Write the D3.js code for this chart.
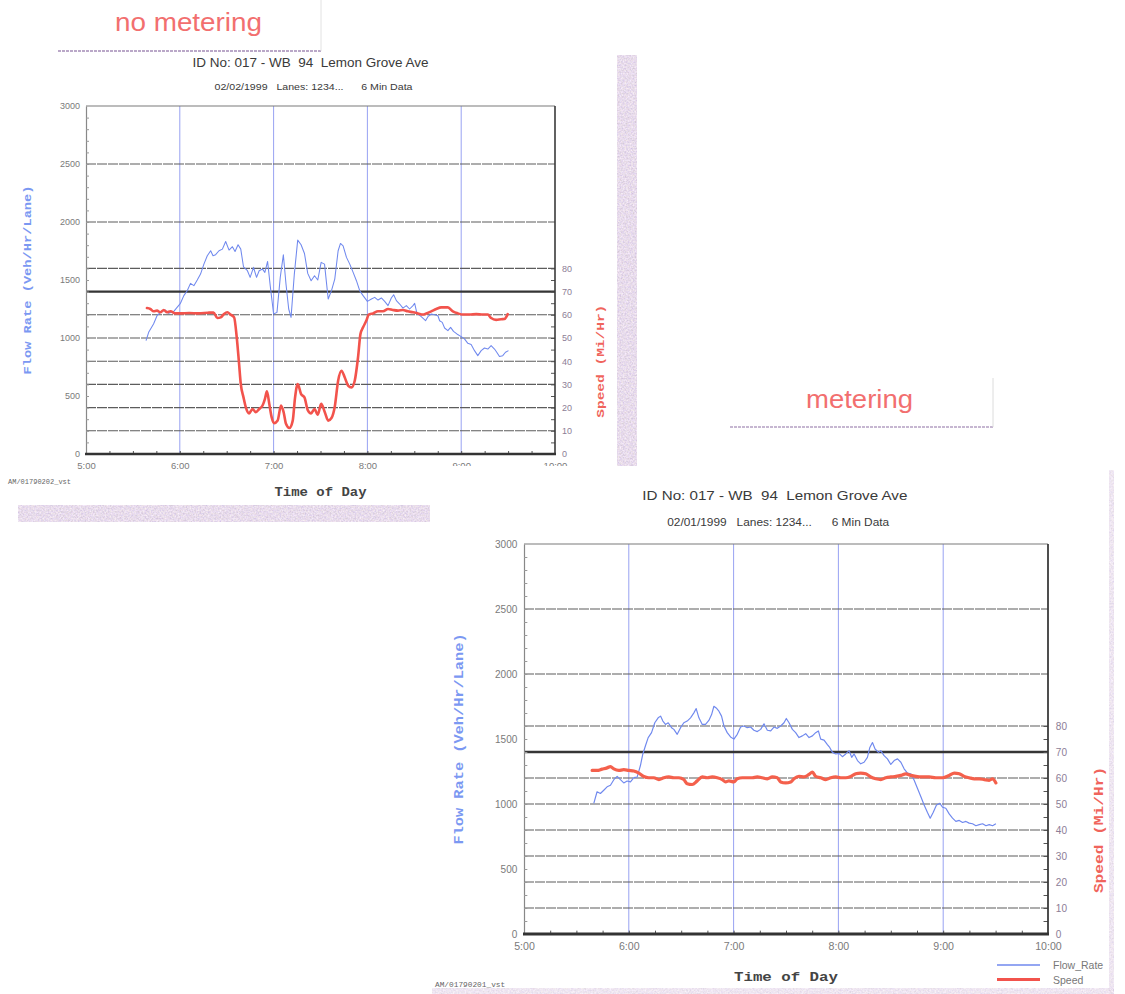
<!DOCTYPE html>
<html><head><meta charset="utf-8">
<script src="https://cdn.jsdelivr.net/npm/d3@7"></script>
<style>
html,body{margin:0;padding:0;background:#fff;}
svg{display:block;}
text{white-space:pre;}
</style></head><body>
<svg id="c" width="1125" height="994"></svg>
<script>
// ---------- data (time in decimal hours) ----------
const noMeterFlowTime = [5.64,5.668,5.72,5.757,5.793,5.846,5.882,5.936,5.971,6.007,6.043,6.079,6.114,6.15,6.186,6.221,6.257,6.293,6.329,6.354,6.382,6.418,6.454,6.489,6.525,6.561,6.589,6.621,6.65,6.679,6.721,6.75,6.786,6.818,6.846,6.882,6.907,6.936,6.964,7.0,7.036,7.071,7.104,7.132,7.161,7.186,7.221,7.257,7.293,7.329,7.364,7.4,7.436,7.471,7.507,7.543,7.582,7.617,7.652,7.688,7.713,7.741,7.777,7.812,7.848,7.883,7.918,7.954,8.0,8.043,8.078,8.113,8.149,8.184,8.22,8.255,8.28,8.309,8.344,8.379,8.415,8.45,8.486,8.504,8.528,8.574,8.62,8.645,8.681,8.716,8.752,8.77,8.798,8.823,8.858,8.887,8.918,8.954,9.0,9.035,9.071,9.106,9.142,9.177,9.213,9.248,9.284,9.319,9.355,9.379,9.408,9.443,9.472,9.504];
const noMeterFlow = [977,1049,1121,1192,1221,1241,1213,1230,1264,1299,1365,1408,1471,1451,1500,1551,1637,1709,1752,1709,1718,1752,1766,1832,1758,1787,1746,1804,1766,1614,1580,1523,1609,1523,1580,1594,1566,1660,1451,1207,1221,1523,1718,1465,1250,1178,1551,1844,1804,1729,1557,1494,1537,1500,1652,1637,1336,1408,1508,1752,1815,1795,1695,1637,1566,1494,1408,1365,1316,1336,1350,1327,1345,1316,1279,1345,1373,1322,1293,1258,1279,1250,1279,1299,1213,1184,1149,1184,1207,1201,1192,1149,1135,1086,1063,1092,1057,1035,1012,992,954,943,891,848,891,914,905,934,905,877,840,848,877,891];
const noMeterSpeedTime = [5.65,5.686,5.721,5.757,5.793,5.829,5.864,5.9,5.954,6.007,6.1,6.2,6.3,6.36,6.4,6.436,6.47,6.507,6.54,6.579,6.607,6.632,6.65,6.679,6.704,6.739,6.775,6.811,6.846,6.882,6.907,6.929,6.954,6.979,7.007,7.043,7.079,7.107,7.132,7.168,7.204,7.229,7.257,7.293,7.329,7.364,7.4,7.436,7.471,7.507,7.546,7.582,7.617,7.652,7.688,7.723,7.759,7.794,7.83,7.865,7.9,7.926,7.954,7.989,8.014,8.06,8.113,8.166,8.22,8.27,8.326,8.379,8.43,8.486,8.54,8.592,8.628,8.681,8.734,8.787,8.858,8.911,8.965,9.018,9.089,9.16,9.23,9.284,9.319,9.372,9.426,9.461,9.496];
const noMeterSpeed = [62.9,62.5,61.5,61.8,61.1,62.1,61.1,61.5,60.6,60.6,60.8,60.6,60.9,61,58.6,58.9,60.3,61.1,60.1,58.9,50.3,38.8,30.2,24.4,20.1,17.5,19.4,18,19.4,20.9,23.7,27,21.6,15.9,13.3,14.4,20.9,18,13,11.2,14.4,24.4,30.2,25.8,24.4,18.9,17.5,19.4,16.9,21.6,18,14.4,15.5,20.4,31.6,35.9,33,29.5,28.7,31.6,41.6,51.7,54.6,57.5,60.1,60.6,61.5,61.5,62.5,62.1,61.8,62.1,61.5,61.1,60.6,60.1,60.6,61.5,62.5,63.2,63.2,61.5,60.6,60.1,60.1,60.3,60.1,60.1,58.6,57.8,58.1,58.2,60.3];

const meterFlowTime = [5.666,5.697,5.729,5.761,5.793,5.825,5.857,5.889,5.92,5.952,5.984,6.016,6.048,6.08,6.111,6.134,6.159,6.185,6.217,6.248,6.28,6.303,6.325,6.35,6.376,6.408,6.43,6.462,6.494,6.525,6.557,6.589,6.621,6.643,6.669,6.701,6.732,6.764,6.79,6.812,6.834,6.86,6.885,6.908,6.939,6.971,7.003,7.035,7.067,7.099,7.13,7.162,7.194,7.226,7.258,7.29,7.322,7.354,7.385,7.417,7.449,7.481,7.503,7.529,7.561,7.592,7.624,7.656,7.688,7.72,7.752,7.783,7.809,7.831,7.863,7.895,7.917,7.943,7.975,8.006,8.038,8.07,8.102,8.127,8.15,8.182,8.213,8.245,8.277,8.3,8.325,8.35,8.382,8.404,8.436,8.468,8.5,8.532,8.564,8.596,8.627,8.659,8.691,8.723,8.755,8.787,8.818,8.85,8.876,8.904,8.936,8.968,8.994,9.025,9.057,9.089,9.121,9.153,9.185,9.217,9.248,9.28,9.312,9.344,9.376,9.408,9.439,9.471,9.503];
const meterFlow = [1005,1094,1081,1106,1132,1144,1187,1213,1187,1162,1177,1170,1203,1208,1296,1385,1448,1511,1549,1625,1663,1676,1638,1612,1625,1587,1574,1536,1587,1625,1638,1663,1701,1734,1663,1612,1612,1643,1688,1752,1739,1714,1676,1600,1549,1516,1499,1536,1592,1600,1587,1592,1567,1557,1574,1617,1567,1562,1592,1582,1600,1625,1658,1625,1574,1549,1511,1524,1541,1511,1524,1549,1562,1499,1491,1456,1435,1397,1385,1390,1364,1385,1410,1359,1385,1334,1309,1321,1359,1435,1473,1423,1397,1410,1372,1347,1304,1334,1347,1321,1271,1238,1233,1182,1119,1056,993,934,891,934,993,1005,975,967,924,891,866,874,858,866,853,848,833,841,848,833,841,833,848];
const meterSpeedTime = [5.65,5.697,5.745,5.793,5.825,5.857,5.904,5.952,6.0,6.048,6.096,6.143,6.191,6.239,6.287,6.334,6.382,6.43,6.478,6.525,6.557,6.605,6.653,6.701,6.748,6.796,6.844,6.892,6.924,6.955,7.003,7.035,7.083,7.13,7.178,7.226,7.274,7.322,7.369,7.417,7.449,7.497,7.545,7.576,7.624,7.672,7.72,7.752,7.783,7.831,7.879,7.927,7.975,8.022,8.07,8.118,8.166,8.213,8.261,8.309,8.357,8.404,8.452,8.5,8.548,8.596,8.643,8.691,8.739,8.803,8.866,8.93,8.994,9.057,9.105,9.153,9.201,9.248,9.296,9.344,9.392,9.439,9.471,9.503];
const meterSpeed = [62.9,62.9,63.4,63.9,64.4,63.5,62.9,63.2,62.9,62.7,61.9,60.6,60.1,60.1,59.4,60.1,60.4,60.1,60.1,59.4,57.8,57.5,58.9,60.4,60.1,60.4,60.1,59.4,58.5,58.9,58.5,59.7,60.1,60.1,60.1,60.4,60.1,59.7,60.4,60.1,58.5,58.1,58.5,59.7,60.6,60.4,61.4,62.3,60.6,60.1,59.4,60.1,60.4,60.1,60.1,60.6,61.6,61.9,61.6,60.4,59.7,59.4,60.1,60.4,60.6,61.0,61.6,61.0,60.6,60.4,60.4,60.1,60.1,61.0,61.9,61.6,60.6,60.1,59.7,59.7,59.4,59.1,59.7,58.1];

const hourTicks = [5,6,7,8,9,10];
const hourLabels = ["5:00","6:00","7:00","8:00","9:00","10:00"];
const flowTicks = [0,500,1000,1500,2000,2500,3000];
const flowGrid = [2000,2500];
const speedTicks = [0,10,20,30,40,50,60,70,80];
const speedGrid = [10,20,30,40,50,60,70,80];
const chartTitle = "ID No: 017 - WB  94  Lemon Grove Ave";
const noMeterSub = "02/02/1999   Lanes: 1234...      6 Min Data";
const meterSub = "02/01/1999   Lanes: 1234...      6 Min Data";
const noMeterFile = "AM/01790202_vst";
const meterFile = "AM/01790201_vst";
const seriesNames = ["Flow_Rate","Speed"];
const flowLabel = "Flow Rate (Veh/Hr/Lane)";
const speedLabel = "Speed (Mi/Hr)";
const xLabel = "Time of Day";
const captions = ["no metering","metering"];

// ---------- drawing ----------
const svg = d3.select("#c");
const defs = svg.append("defs");
const f = defs.append("filter").attr("id","noise").attr("x",0).attr("y",0).attr("width","100%").attr("height","100%");
f.append("feTurbulence").attr("type","fractalNoise").attr("baseFrequency","0.6").attr("numOctaves",2).attr("seed",7).attr("result","t");
f.append("feColorMatrix").attr("in","t").attr("type","matrix")
 .attr("values","0.45 0 0 0 0.58  0.45 0.1 0 0 0.44  0.3 0 0.25 0 0.56  0 0 0 0 1").attr("result","c");
f.append("feComposite").attr("in","c").attr("in2","SourceGraphic").attr("operator","in");

const SANS = "'Liberation Sans Narrow','Liberation Sans',Arial,sans-serif";
const MONO = "'Liberation Mono','DejaVu Sans Mono',monospace";
const fmt = d3.format("d");

function drawChart(cfg) {
  const k = cfg.k;
  const X0 = cfg.x0, X1 = cfg.x0 + cfg.w, Y0 = cfg.y0, Y1 = cfg.y0 + cfg.h;
  const x = d3.scaleLinear().domain([5,10]).range([X0,X1]);
  const yF = d3.scaleLinear().domain([0,3000]).range([Y1,Y0]);
  const yS = d3.scaleLinear().domain([0,150]).range([Y1,Y0]);
  const g = svg.append("g");

  // vertical grid
  g.append("g").selectAll("line").data([6,7,8,9]).join("line")
    .attr("x1",d=>x(d)).attr("x2",d=>x(d)).attr("y1",Y0).attr("y2",Y1)
    .attr("stroke","#8c97f0").attr("stroke-width",0.9);
  // horizontal grid (flow)
  g.append("g").selectAll("line").data(flowGrid).join("line")
    .attr("x1",X0).attr("x2",X1).attr("y1",d=>yF(d)).attr("y2",d=>yF(d))
    .attr("stroke","#5c5c5c").attr("stroke-width",1.1).attr("stroke-dasharray","10 1");
  // horizontal grid (speed)
  g.append("g").selectAll("line").data(speedGrid).join("line")
    .attr("x1",X0).attr("x2",X1).attr("y1",d=>yS(d)).attr("y2",d=>yS(d))
    .attr("stroke",d=>d===70?"#353535":"#5c5c5c")
    .attr("stroke-width",d=>d===70?2.2*k:1.1)
    .attr("stroke-dasharray",d=>d===70?null:"10 1");
  // top frame
  g.append("line").attr("x1",X0).attr("x2",X1).attr("y1",Y0).attr("y2",Y0).attr("stroke","#7a7a7a").attr("stroke-width",1.1);

  // left axis (flow)
  const la = g.append("g").attr("transform",`translate(${X0},0)`)
    .call(d3.axisLeft(yF).tickValues(flowTicks).tickFormat(fmt).tickSize(0).tickPadding(6*k));
  la.select(".domain").attr("stroke","#888").attr("stroke-width",1.2);
  la.selectAll("text").attr("font-family",SANS).attr("font-size",9*k).attr("fill","#7a7a7a");
  const lm = g.append("g").attr("transform",`translate(${X0},0)`)
    .call(d3.axisRight(yF).tickValues(d3.range(100,3000,100)).tickSize(3*k).tickFormat(""));
  lm.select(".domain").remove();
  lm.selectAll("line").attr("stroke","#999");

  // right axis (speed)
  const ra = g.append("g").attr("transform",`translate(${X1},0)`)
    .call(d3.axisRight(yS).tickValues(speedTicks).tickFormat(fmt).tickSize(0).tickPadding(7*k));
  ra.select(".domain").remove();
  ra.selectAll("text").attr("font-family",SANS).attr("font-size",9*k).attr("fill","#8c7d96");
  const rm = g.append("g").attr("transform",`translate(${X1},0)`)
    .call(d3.axisLeft(yS).tickValues(d3.range(5,85,5)).tickSize(4*k).tickFormat(""));
  rm.select(".domain").remove();
  rm.selectAll("line").attr("stroke","#555");
  g.append("line").attr("x1",X1).attr("x2",X1).attr("y1",Y0).attr("y2",Y1).attr("stroke","#3a3a3a").attr("stroke-width",1.6*k);

  // bottom axis
  const ba = g.append("g").attr("transform",`translate(0,${Y1})`)
    .call(d3.axisBottom(x).tickValues(hourTicks).tickFormat((d,i)=>hourLabels[i]).tickSize(0).tickPadding(8*k));
  ba.select(".domain").remove();
  ba.selectAll("text").attr("font-family",SANS).attr("font-size",9.5*k).attr("fill","#7a7a7a");
  const bm = g.append("g").attr("transform",`translate(0,${Y1})`)
    .call(d3.axisTop(x).tickValues(d3.range(5.25,10,0.25)).tickSize(3*k).tickFormat(""));
  bm.select(".domain").remove();
  bm.selectAll("line").attr("stroke","#555");
  g.append("line").attr("x1",X0-1).attr("x2",X1+1).attr("y1",Y1).attr("y2",Y1).attr("stroke","#333").attr("stroke-width",2.6*k);

  // data lines
  const flowPts = d3.zip(cfg.flowT, cfg.flow);
  const speedPts = d3.zip(cfg.speedT, cfg.speed);
  g.append("path").datum(flowPts)
    .attr("d", d3.line().x(d=>x(d[0])).y(d=>yF(d[1])))
    .attr("fill","none").attr("stroke","#7089ee").attr("stroke-width",1.05*k).attr("stroke-linejoin","round");
  g.append("path").datum(speedPts)
    .attr("d", d3.line().curve(d3.curveMonotoneX).x(d=>x(d[0])).y(d=>yS(d[1])))
    .attr("fill","none").attr("stroke",cfg.speedColor).attr("stroke-width",cfg.speedWidth).attr("stroke-linejoin","round").attr("stroke-linecap","round");

  // titles
  const cx = (X0+X1)/2;
  g.append("text").attr("x",cx-10*k).attr("y",Y0-39*k).attr("text-anchor","middle")
    .attr("font-family",SANS).attr("font-size",12*k).attr("fill","#3a3a3a")
    .attr("textLength",cfg.titleLen).attr("lengthAdjust","spacingAndGlyphs").text(chartTitle);
  g.append("text").attr("x",cx-7*k).attr("y",Y0-16.5*k).attr("text-anchor","middle")
    .attr("font-family",SANS).attr("font-size",9*k).attr("fill","#3a3a3a")
    .attr("textLength",cfg.subLen).attr("lengthAdjust","spacingAndGlyphs").text(cfg.sub);

  // axis titles
  g.append("text").attr("x",cx).attr("y",Y1+42*k).attr("text-anchor","middle")
    .attr("font-family",MONO).attr("font-weight","bold").attr("font-size",12*k).attr("fill","#444")
    .attr("textLength",cfg.xLabLen).attr("lengthAdjust","spacingAndGlyphs").text(xLabel);
  g.append("text").attr("transform",`translate(${X0-55*k},${(Y0+Y1)/2}) rotate(-90)`).attr("text-anchor","middle")
    .attr("font-family",MONO).attr("font-weight","bold").attr("font-size",11*k).attr("fill","#7b98f2")
    .attr("textLength",189*k).attr("lengthAdjust","spacingAndGlyphs").text(flowLabel);
  g.append("text").attr("transform",`translate(${X1+49*k},${yS(40)}) rotate(-90)`).attr("text-anchor","middle")
    .attr("font-family",MONO).attr("font-weight","bold").attr("font-size",11*k).attr("fill","#f0645c")
    .attr("textLength",113*k).attr("lengthAdjust","spacingAndGlyphs").text(speedLabel);

  // file tag
  g.append("text").attr("x",cfg.fileX).attr("y",cfg.fileY)
    .attr("font-family",MONO).attr("font-size",7*k).attr("fill","#666").text(cfg.file);

  return {x,yF,yS};
}

// caption box (no metering)
svg.append("line").attr("x1",58).attr("x2",321).attr("y1",51).attr("y2",51).attr("stroke","#a48cb6").attr("stroke-width",1.6).attr("stroke-dasharray","3 1");
svg.append("line").attr("x1",321).attr("x2",321).attr("y1",0).attr("y2",51).attr("stroke","#e2e2e2").attr("stroke-width",1);
svg.append("text").attr("x",115).attr("y",31).attr("font-family","'Liberation Sans',Arial,sans-serif").attr("font-size",26)
  .attr("fill","#f26f6f").attr("textLength",147).attr("lengthAdjust","spacingAndGlyphs").text(captions[0]);

// scan strips (top page)
svg.append("rect").attr("x",617).attr("y",55).attr("width",20).attr("height",414).attr("fill","#000").attr("filter","url(#noise)");
svg.append("rect").attr("x",18).attr("y",505).attr("width",412).attr("height",17).attr("fill","#000").attr("filter","url(#noise)");

// top chart (no metering)
drawChart({
  x0:86, y0:106, w:469, h:348, k:1,
  flowT:noMeterFlowTime, flow:noMeterFlow, speedT:noMeterSpeedTime, speed:noMeterSpeed,
  speedColor:"#f2534c", speedWidth:2.6,
  sub:noMeterSub, titleLen:236, subLen:198, xLabLen:92,
  file:noMeterFile, fileX:8, fileY:484
});

// bottom page (covers lower part of top chart's right labels)
svg.append("rect").attr("x",432).attr("y",466).attr("width",680).attr("height",524).attr("fill","#fff");
svg.append("rect").attr("x",1109).attr("y",470).attr("width",5).attr("height",524).attr("fill","#000").attr("filter","url(#noise)").attr("opacity",0.7);
svg.append("rect").attr("x",432).attr("y",988).attr("width",682).attr("height",6).attr("fill","#000").attr("filter","url(#noise)").attr("opacity",0.7);

// metering caption box
svg.append("line").attr("x1",730).attr("x2",993).attr("y1",427).attr("y2",427).attr("stroke","#b4a0c2").attr("stroke-width",1.4).attr("stroke-dasharray","3 1");
svg.append("line").attr("x1",993).attr("x2",993).attr("y1",378).attr("y2",427).attr("stroke","#dcdcdc").attr("stroke-width",1);
svg.append("text").attr("x",806).attr("y",408).attr("font-family","'Liberation Sans',Arial,sans-serif").attr("font-size",26)
  .attr("fill","#f26f6f").attr("textLength",107).attr("lengthAdjust","spacingAndGlyphs").text(captions[1]);

// bottom chart (metering)
drawChart({
  x0:524, y0:544, w:524, h:390, k:1.117,
  flowT:meterFlowTime, flow:meterFlow, speedT:meterSpeedTime, speed:meterSpeed,
  speedColor:"#f4604c", speedWidth:3.2,
  sub:meterSub, titleLen:265, subLen:222, xLabLen:104,
  file:meterFile, fileX:435, fileY:987
});

// legend
const legend = svg.append("g");
const lg = legend.selectAll("g").data(seriesNames).join("g")
  .attr("transform",(d,i)=>`translate(997,${965+i*14.5})`);
lg.append("line").attr("x1",0).attr("x2",43).attr("y1",0).attr("y2",0)
  .attr("stroke",(d,i)=>i===0?"#7089ee":"#f2534c").attr("stroke-width",(d,i)=>i===0?1.3:3.2);
lg.append("text").attr("x",56).attr("y",4).attr("font-family",SANS).attr("font-size",10.5).attr("fill","#777").text(d=>d);
</script>
</body></html>
